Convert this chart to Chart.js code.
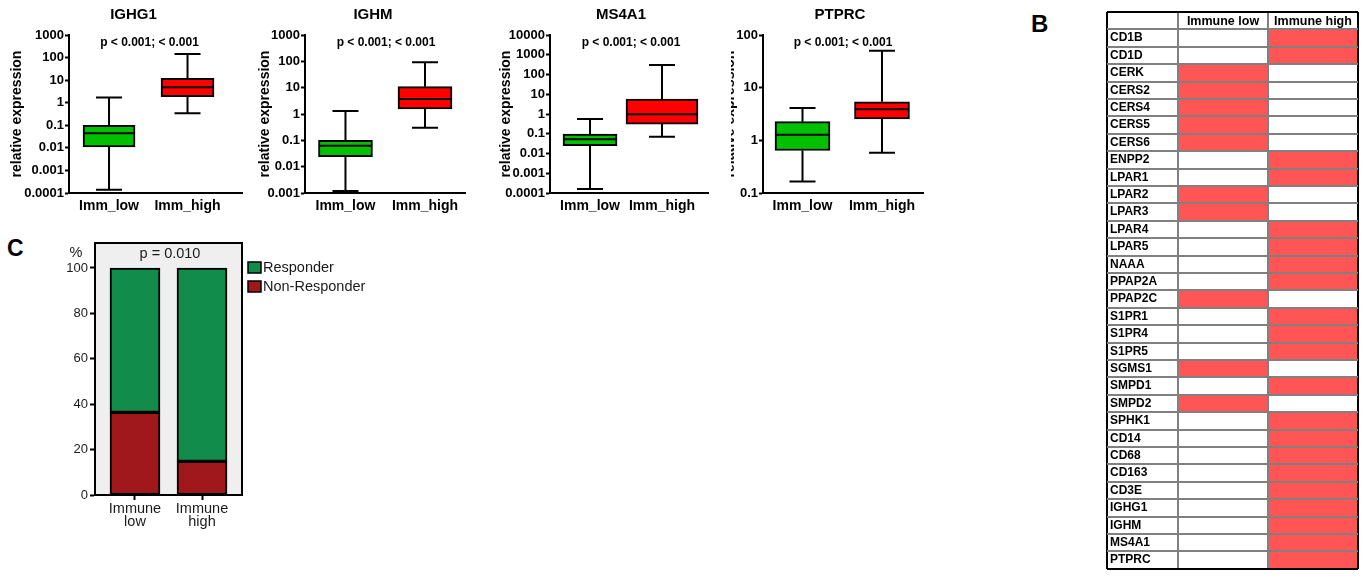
<!DOCTYPE html>
<html lang="en">
<head>
<meta charset="UTF-8">
<title>Immune low vs Immune high</title>
<script src="https://cdn.jsdelivr.net/npm/chart.js"></script>
<style>
  body { margin: 0; background: #fff; font-family: Arial, 'Liberation Sans', sans-serif; }
  #page { position: relative; width: 1365px; height: 579px; overflow: hidden; background: #fff; }
  .panel { position: absolute; }
  .clip { position: absolute; overflow: hidden; }
  .letter { position: absolute; font-weight: bold; line-height: 1; color: #000; }
</style>
</head>
<body>
<div id="page">
  <div class="panel" style="left:5px;top:0;width:247px;height:225px"><canvas id="ighg1"></canvas></div>
  <div class="panel" style="left:253px;top:0;width:222px;height:225px"><canvas id="ighm"></canvas></div>
  <div class="panel" style="left:494px;top:0;width:224px;height:225px"><canvas id="ms4a1"></canvas></div>
  <div class="clip" style="left:731px;top:0;width:202px;height:225px">
    <div class="panel" style="left:-13px;top:0;width:215px;height:225px"><canvas id="ptprc"></canvas></div>
  </div>

  <div class="letter" style="left:7px;top:237px;font-size:23px">C</div>
  <div class="panel" style="left:0;top:230px;width:380px;height:305px"><canvas id="response"></canvas></div>

  <div class="letter" style="left:1031px;top:12px;font-size:24px">B</div>
  <div class="panel" style="left:1100px;top:0;width:265px;height:579px"><canvas id="table"></canvas></div>
</div>

<script>
Chart.defaults.font.family = "Arial, 'Liberation Sans', sans-serif";
Chart.defaults.color = '#000';
Chart.defaults.animation = false;
Chart.defaults.responsive = true;
Chart.defaults.maintainAspectRatio = false;
Chart.defaults.plugins.legend.display = false;
Chart.defaults.plugins.tooltip.enabled = false;
Chart.defaults.plugins.colors = { enabled: false };

// panel A: min, q1, median, q3, max per group
const groups = ['Imm_low', 'Imm_high'];
const pLabel = 'p < 0.001; < 0.001';
const ighg1Low  = [0.00014, 0.011, 0.044, 0.10, 1.7];
const ighg1High = [0.34, 1.85, 4.8, 12, 144];
const ighmLow   = [0.0012, 0.024, 0.062, 0.10, 1.3];
const ighmHigh  = [0.30, 1.55, 3.7, 10.9, 92];
const ms4a1Low  = [0.00016, 0.025, 0.052, 0.097, 0.56];
const ms4a1High = [0.071, 0.31, 0.96, 5.75, 303];
const ptprcLow  = [0.166, 0.64, 1.27, 2.26, 4.1];
const ptprcHigh = [0.58, 2.54, 3.9, 5.4, 50];
const ighg1Ticks = [0.0001, 0.001, 0.01, 0.1, 1, 10, 100, 1000];
const ighmTicks  = [0.001, 0.01, 0.1, 1, 10, 100, 1000];
const ms4a1Ticks = [0.0001, 0.001, 0.01, 0.1, 1, 10, 100, 1000, 10000];
const ptprcTicks = [0.1, 1, 10, 100];

// panel C
const responseGroups = [['Immune', 'low'], ['Immune', 'high']];
const nonResponder = [36.4, 14.8];
const responder = [63.6, 85.2];
const pctTicks = [0, 20, 40, 60, 80, 100];

// panel B
const headerCols = ['Immune low', 'Immune high'];
const genes = ['CD1B', 'CD1D', 'CERK', 'CERS2', 'CERS4', 'CERS5', 'CERS6', 'ENPP2', 'LPAR1', 'LPAR2',
  'LPAR3', 'LPAR4', 'LPAR5', 'NAAA', 'PPAP2A', 'PPAP2C', 'S1PR1', 'S1PR4', 'S1PR5', 'SGMS1',
  'SMPD1', 'SMPD2', 'SPHK1', 'CD14', 'CD68', 'CD163', 'CD3E', 'IGHG1', 'IGHM', 'MS4A1', 'PTPRC'];
const immuneLow  = [0,0,1,1,1,1,1,0,0,1,1,0,0,0,0,1,0,0,0,1,0,1,0,0,0,0,0,0,0,0,0];
const immuneHigh = [1,1,0,0,0,0,0,1,1,0,0,1,1,1,1,0,1,1,1,0,1,0,1,1,1,1,1,1,1,1,1];

const FONT = "Arial, 'Liberation Sans', sans-serif";

// whiskers and median line on top of the floating bars
const boxWhiskers = {
  id: 'boxWhiskers',
  afterDatasetsDraw(chart) {
    const ctx = chart.ctx, ys = chart.scales.y;
    ctx.save();
    ctx.strokeStyle = '#000';
    ctx.lineWidth = 2;
    chart.data.datasets.forEach((ds, i) => {
      const s = ds.stats;
      chart.getDatasetMeta(i).data.forEach(bar => {
        const x = bar.x, half = bar.width / 2, cap = 13;
        const p = s.map(v => ys.getPixelForValue(v));
        ctx.beginPath();
        ctx.moveTo(x, p[3]); ctx.lineTo(x, p[4]);
        ctx.moveTo(x - cap, p[4]); ctx.lineTo(x + cap, p[4]);
        ctx.moveTo(x, p[1]); ctx.lineTo(x, p[0]);
        ctx.moveTo(x - cap, p[0]); ctx.lineTo(x + cap, p[0]);
        ctx.moveTo(x - half + 1, p[2]); ctx.lineTo(x + half - 1, p[2]);
        ctx.stroke();
      });
    });
    ctx.restore();
  }
};

const panelText = {
  id: 'panelText',
  afterDraw(chart, args, o) {
    const { ctx, chartArea: a } = chart;
    const cx = (a.left + a.right) / 2;
    ctx.save();
    ctx.fillStyle = '#000';
    ctx.textAlign = 'center';
    ctx.textBaseline = 'middle';
    ctx.font = 'bold 15px ' + FONT;
    ctx.fillText(o.title, cx + o.titleDx, a.top - 20);
    ctx.font = 'bold 12px ' + FONT;
    ctx.fillText(pLabel, cx + o.pDx, a.top + 8);
    ctx.restore();
  }
};

function boxChart(id, title, low, high, ticks, opt) {
  new Chart(document.getElementById(id), {
    type: 'bar',
    data: {
      datasets: [
        { label: groups[0], data: [{ x: 1, y: [low[1], low[3]] }], stats: low,
          backgroundColor: '#00c000', borderColor: '#000', barThickness: opt.bars[0] },
        { label: groups[1], data: [{ x: 2, y: [high[1], high[3]] }], stats: high,
          backgroundColor: '#ff0000', borderColor: '#000', barThickness: opt.bars[1] }
      ]
    },
    options: {
      layout: { padding: { top: 35, right: 10, bottom: 0, left: 0 } },
      datasets: { bar: { borderWidth: 2, borderSkipped: false, grouped: false } },
      scales: {
        x: {
          type: 'linear', offset: false, min: opt.xMin, max: opt.xMax,
          afterBuildTicks: s => { s.ticks = [{ value: 1 }, { value: 2 }]; },
          afterFit: s => { s.height = 32; },
          ticks: { callback: (v, i) => groups[i], font: { size: 14, weight: 'bold' },
                   padding: 5, autoSkip: false, maxRotation: 0 },
          grid: { offset: false, drawOnChartArea: false, drawTicks: false },
          border: { display: true, color: '#000', width: 2 }
        },
        y: {
          type: 'logarithmic', min: ticks[0], max: ticks[ticks.length - 1],
          afterBuildTicks: s => { s.ticks = ticks.map(v => ({ value: v })); },
          afterFit: s => { s.width = opt.yWidth; },
          ticks: { callback: v => String(v), font: { size: 13, weight: 'bold' }, padding: 1, autoSkip: false },
          grid: { drawOnChartArea: false, drawTicks: true, tickLength: 4, tickWidth: 2, tickColor: '#000', color: '#000' },
          border: { display: true, color: '#000', width: 2 },
          title: { display: true, text: 'relative expression', font: { size: 14, weight: 'bold' },
                   padding: { top: 4, bottom: 0 } }
        }
      },
      plugins: { panelText: { title: title, titleDx: opt.titleDx, pDx: opt.pDx } }
    },
    plugins: [boxWhiskers, panelText]
  });
}

boxChart('ighg1', 'IGHG1', ighg1Low, ighg1High, ighg1Ticks,
  { yWidth: 64, xMin: 0.49, xMax: 2.694, bars: [52, 53], titleDx: -22, pDx: -6 });
boxChart('ighm', 'IGHM', ighmLow, ighmHigh, ighmTicks,
  { yWidth: 52, xMin: 0.491, xMax: 2.503, bars: [54, 54], titleDx: -12, pDx: 1 });
boxChart('ms4a1', 'MS4A1', ms4a1Low, ms4a1High, ms4a1Ticks,
  { yWidth: 56, xMin: 0.444, xMax: 2.639, bars: [54, 72], titleDx: -8, pDx: 2 });
boxChart('ptprc', 'PTPRC', ptprcLow, ptprcHigh, ptprcTicks,
  { yWidth: 45, xMin: 0.503, xMax: 2.516, bars: [55, 55], titleDx: -3, pDx: 0 });

// panel C: grey plot area, frame, legend, % and p value
const responseDecor = {
  id: 'responseDecor',
  beforeDraw(chart) {
    const { ctx, chartArea: a } = chart;
    ctx.save();
    ctx.fillStyle = '#efefef';
    ctx.fillRect(a.left, a.top, a.right - a.left, a.bottom - a.top);
    ctx.restore();
  },
  afterDatasetsDraw(chart) {
    const { ctx, chartArea: a } = chart;
    ctx.save();
    ctx.strokeStyle = '#000';
    ctx.lineWidth = 2;
    ctx.strokeRect(a.left, a.top, a.right - a.left, a.bottom - a.top);
    ctx.restore();
  },
  afterDraw(chart) {
    const { ctx, chartArea: a } = chart;
    ctx.save();
    ctx.textBaseline = 'middle';
    ctx.font = '14.5px ' + FONT;
    ctx.fillStyle = '#1a1a1a';
    ctx.textAlign = 'center';
    ctx.fillText('%', a.left - 19, a.top + 10);
    ctx.fillText('p = 0.010', (a.left + a.right) / 2 + 1.5, a.top + 11);
    ctx.textAlign = 'left';
    chart.data.datasets.slice().reverse().forEach((ds, k) => {
      const y = a.top + 19 + k * 19;
      ctx.fillStyle = ds.backgroundColor;
      ctx.fillRect(a.right + 6, y, 13, 11);
      ctx.strokeStyle = '#000';
      ctx.lineWidth = 1.5;
      ctx.strokeRect(a.right + 6, y, 13, 11);
      ctx.fillStyle = '#1a1a1a';
      ctx.fillText(ds.label, a.right + 21, y + 6);
    });
    ctx.restore();
  }
};

new Chart(document.getElementById('response'), {
  type: 'bar',
  data: {
    datasets: [
      { label: 'Non-Responder', data: nonResponder.map((v, i) => ({ x: i + 1, y: v })),
        backgroundColor: '#a0171c', borderColor: '#000' },
      { label: 'Responder', data: responder.map((v, i) => ({ x: i + 1, y: v })),
        backgroundColor: '#128c4a', borderColor: '#000' }
    ]
  },
  options: {
    layout: { padding: { top: 13, right: 138, bottom: 0, left: 0 } },
    datasets: { bar: { borderWidth: 2, borderSkipped: false, grouped: false, barThickness: 50 } },
    scales: {
      x: {
        type: 'linear', offset: false, min: 0.403, max: 2.597,
        afterBuildTicks: s => { s.ticks = [{ value: 1 }, { value: 2 }]; },
        afterFit: s => { s.height = 40; },
        ticks: { callback: (v, i) => responseGroups[i], font: { size: 14.5, lineHeight: 0.92 },
                 color: '#1a1a1a', padding: 2, autoSkip: false, maxRotation: 0 },
        grid: { offset: false, drawOnChartArea: false, drawTicks: true, tickLength: 5, tickWidth: 2, tickColor: '#000' },
        border: { display: true, color: '#000', width: 2 }
      },
      y: {
        stacked: true, min: 0, max: 111,
        afterBuildTicks: s => { s.ticks = pctTicks.map(v => ({ value: v })); },
        afterFit: s => { s.width = 95; },
        ticks: { font: { size: 13 }, color: '#1a1a1a', padding: 2, autoSkip: false },
        grid: { drawOnChartArea: false, drawTicks: true, tickLength: 5, tickWidth: 2, tickColor: '#000' },
        border: { display: true, color: '#000', width: 2 }
      }
    }
  },
  plugins: [responseDecor]
});

// panel B: table drawn as floating horizontal bars with grid lines on top
const tableHeader = {
  id: 'tableHeader',
  afterDraw(chart) {
    const { ctx, scales: { x, y } } = chart;
    ctx.save();
    ctx.fillStyle = '#000';
    ctx.textAlign = 'center';
    ctx.textBaseline = 'middle';
    ctx.font = 'bold 12.5px ' + FONT;
    headerCols.forEach((t, i) => ctx.fillText(t, x.getPixelForValue(i + 0.5), y.getPixelForValue(0) + 1));
    ctx.restore();
  }
};

const edge = ctx => (ctx.index === undefined || ctx.index === 0) ? '#000' : '#808080';

new Chart(document.getElementById('table'), {
  type: 'bar',
  data: {
    labels: [''].concat(genes),
    datasets: [
      { label: headerCols[0], data: [null].concat(immuneLow.map(v => v ? [0, 1] : null)), backgroundColor: '#ff5555' },
      { label: headerCols[1], data: [null].concat(immuneHigh.map(v => v ? [1, 2] : null)), backgroundColor: '#ff5555' }
    ]
  },
  options: {
    indexAxis: 'y',
    layout: { padding: { top: 12, right: 7, bottom: 2, left: 7 } },
    datasets: { bar: { borderWidth: 0, barPercentage: 1, categoryPercentage: 1, grouped: false } },
    scales: {
      x: {
        type: 'linear', min: -0.789, max: 2,
        afterBuildTicks: s => { s.ticks = [{ value: -0.789 }, { value: 0 }, { value: 1 }, { value: 2 }]; },
        afterFit: s => { s.height = 0; },
        ticks: { display: false },
        grid: { z: 1, drawTicks: false, lineWidth: 2,
                color: c => (c.tick && (c.tick.value === 0 || c.tick.value === 1)) ? '#808080' : '#000' },
        border: { display: false }
      },
      y: {
        afterFit: s => { s.width = 0; },
        ticks: { z: 1, mirror: true, padding: 3, font: { size: 12, weight: 'bold' }, autoSkip: false },
        grid: { z: 1, drawTicks: false, lineWidth: 2, color: edge },
        border: { display: false }
      }
    }
  },
  plugins: [tableHeader]
});
</script>
</body>
</html>
